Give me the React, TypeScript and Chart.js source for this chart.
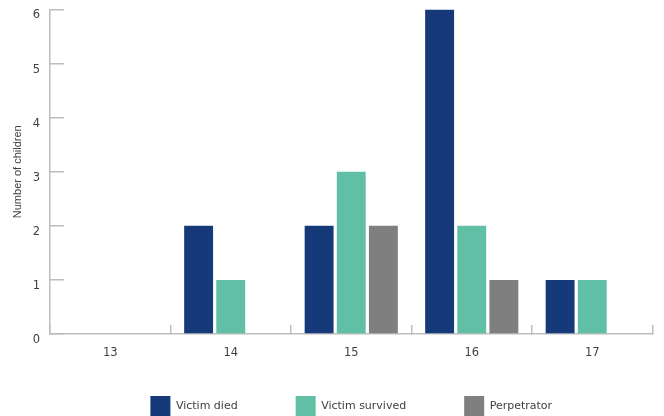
import React, { useEffect, useRef } from "react";
import { Chart, registerables } from "chart.js";

Chart.register(...registerables);

const categories = ["13", "14", "15", "16", "17"];
const victimDied = [0, 2, 2, 6, 1];
const victimSurvived = [0, 1, 3, 2, 1];
const perpetrator = [0, 0, 2, 1, 0];
const seriesNames = ["Victim died", "Victim survived", "Perpetrator"];
const seriesColors = ["#163a79", "#61bfa6", "#7f7f7f"];
const yMin = 0;
const yMax = 6;
const yStep = 1;

const FONT = "'DejaVu Sans', sans-serif";
const TITLE_FONT = "'Liberation Sans', Arial, sans-serif";
const TEXT = "#404040";
const AXIS = "#bdbdbd";
const LEGEND_BOX = 20;
const LEGEND_GAP = 58;
const LEGEND_SLOT = 54;
const X_AXIS_H = 28;

const legendPlacement = {
  id: "legendPlacement",
  beforeLayout(chart: any) {
    const l = chart.legend;
    if (l && !l.__patched) {
      const orig = l.fit.bind(l);
      l.fit = function () {
        orig();
        this.height = LEGEND_SLOT;
      };
      l.__patched = true;
    }
  },
  afterLayout(chart: any) {
    const l = chart.legend;
    if (!l) return;
    l.left = chart.chartArea.left;
    l.right = chart.chartArea.right;
    l.top = l.bottom - (LEGEND_BOX + LEGEND_GAP);
  },
};

export default function App() {
  const ref = useRef<HTMLCanvasElement>(null);
  useEffect(() => {
    if (!ref.current) return;
    const chart = new Chart(ref.current, {
      type: "bar",
      data: {
        labels: categories,
        datasets: [victimDied, victimSurvived, perpetrator].map((d, i) => ({
          label: seriesNames[i],
          data: d,
          backgroundColor: seriesColors[i],
          borderWidth: 0,
          categoryPercentage: 0.8,
          barPercentage: 0.9,
        })),
      },
      plugins: [legendPlacement],
      options: {
        animation: false,
        responsive: true,
        maintainAspectRatio: false,
        layout: { padding: { top: 9.5, right: 11.5, left: 0, bottom: 0 } },
        plugins: {
          tooltip: { enabled: false },
          legend: {
            position: "bottom",
            labels: {
              boxWidth: LEGEND_BOX,
              boxHeight: LEGEND_BOX,
              padding: LEGEND_GAP,
              color: TEXT,
              font: { family: FONT, size: 11 },
            },
          },
        },
        scales: {
          x: {
            afterFit: (s: any) => {
              s.height = X_AXIS_H;
            },
            grid: {
              offset: true,
              drawOnChartArea: false,
              tickLength: -9,
              color: AXIS,
              lineWidth: 1.5,
            },
            border: { color: AXIS, width: 1.5 },
            ticks: { padding: 21, color: TEXT, font: { family: FONT, size: 11.5 } },
          },
          y: {
            min: yMin,
            max: yMax,
            afterFit: (s: any) => {
              s.width = 50;
              s.paddingTop = 6;
              s.paddingBottom = 6;
            },
            grid: {
              drawOnChartArea: false,
              tickLength: -14,
              color: AXIS,
              lineWidth: 1.5,
            },
            border: { color: AXIS, width: 1.5 },
            ticks: {
              stepSize: yStep,
              padding: 24,
              labelOffset: 6,
              color: TEXT,
              font: { family: FONT, size: 11.5 },
            },
            title: {
              display: true,
              text: "Number of children",
              color: TEXT,
              font: { family: TITLE_FONT, size: 11 },
              padding: { top: 11, bottom: 4 },
            },
          },
        },
      },
    });
    return () => chart.destroy();
  }, []);
  return (
    <div style={{ position: "absolute", left: 0, top: 0, width: 664, height: 416 }}>
      <canvas ref={ref} />
    </div>
  );
}
